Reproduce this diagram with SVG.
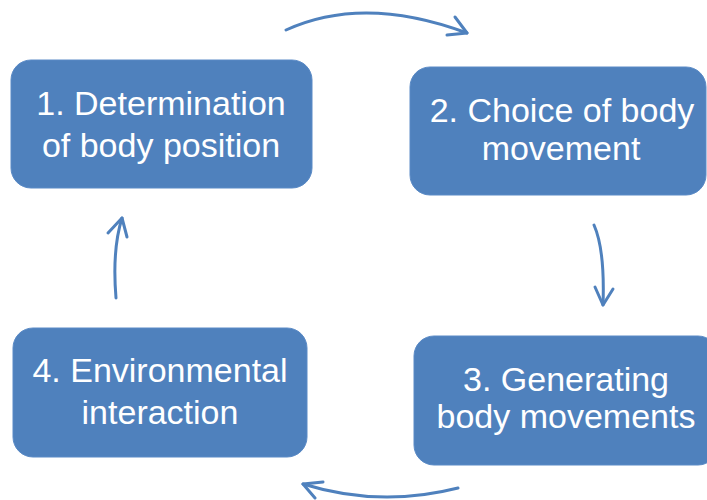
<svg xmlns="http://www.w3.org/2000/svg" width="707" height="500" viewBox="0 0 707 500">
<style>
.box{fill:#4F81BD;stroke:#5A8AC6;stroke-width:1}
.lbl{fill:#FFFFFF;font-family:"Liberation Sans",Arial,sans-serif;font-size:34px;text-anchor:middle}
.arr{fill:none;stroke:#4F81BD;stroke-width:3;stroke-linecap:round;stroke-linejoin:round}
</style>
<rect width="707" height="500" fill="#FFFFFF"/>
<g id="node1">
<rect class="box" x="11" y="60" width="301" height="128" rx="20"/>
<text class="lbl" x="161" y="115">1. Determination</text>
<text class="lbl" x="161" y="157">of body position</text>
</g>
<g id="node2">
<rect class="box" x="410" y="67" width="296" height="128" rx="20"/>
<text class="lbl" x="562" y="122">2. Choice of body</text>
<text class="lbl" x="561" y="160">movement</text>
</g>
<g id="node3">
<rect class="box" x="414" y="336" width="304" height="129" rx="20"/>
<text class="lbl" x="566" y="391">3. Generating</text>
<text class="lbl" x="566" y="428">body movements</text>
</g>
<g id="node4">
<rect class="box" x="13" y="328" width="294" height="129" rx="20"/>
<text class="lbl" x="160" y="382">4. Environmental</text>
<text class="lbl" x="160" y="424">interaction</text>
</g>
<g id="connectors">
<path class="arr" d="M286,30 Q363.5,-5.5 467,33"/>
<path class="arr" d="M455,17 L467,33 L447,35"/>
<path class="arr" d="M594,225 Q605,250 603,305"/>
<path class="arr" d="M595,287 L603,305 L613,289"/>
<path class="arr" d="M458,488 Q379.5,508 303,484"/>
<path class="arr" d="M323,482 L303,484 L315,498"/>
<path class="arr" d="M116,298 Q112,250 122,218"/>
<path class="arr" d="M108,233 L122,218 L127,237"/>
</g>
</svg>
